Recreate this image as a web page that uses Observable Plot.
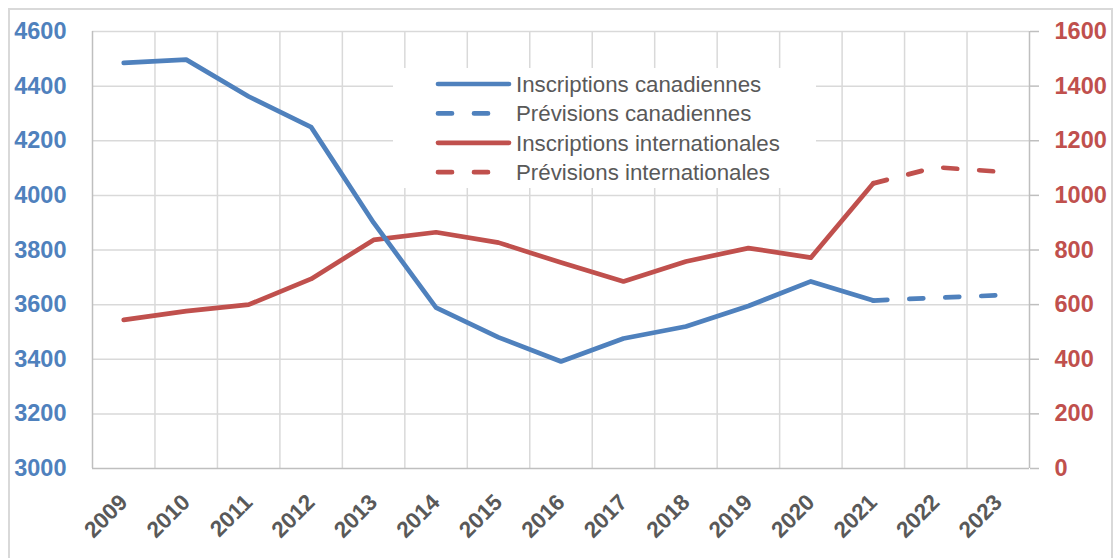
<!DOCTYPE html>
<html><head><meta charset="utf-8">
<script src="https://cdn.jsdelivr.net/npm/d3@7"></script>
<script src="https://cdn.jsdelivr.net/npm/@observablehq/plot@0.6"></script>
<style>
body{margin:0;background:#fff;}
#wrap{position:relative;width:1114px;height:558px;overflow:hidden;background:#fff;}
#border{position:absolute;left:8px;top:8px;width:1105px;height:620px;border:2px solid #D9D9D9;box-sizing:border-box;}
#chart{position:absolute;left:0;top:0;}
#legend{position:absolute;left:393px;top:68px;width:423px;height:120px;background:#fff;}
</style></head><body>
<div id="wrap"><div id="border"></div><div id="chart"></div><div id="legend"></div></div>
<script>
const years = [2009,2010,2011,2012,2013,2014,2015,2016,2017,2018,2019,2020,2021,2022,2023];
const actualYears = [2009,2010,2011,2012,2013,2014,2015,2016,2017,2018,2019,2020,2021];
const forecastYears = [2021,2022,2023];
const canadian = [4485,4497,4362,4250,3900,3589,3480,3392,3476,3520,3595,3685,3615];
const canadianForecast = [3615,3625,3634];
const international = [544,576,600,694,837,865,827,754,685,758,807,772,1044];
const internationalForecast = [1044,1103,1087];
const leftTicks = [3000,3200,3400,3600,3800,4000,4200,4400,4600];
const rightTicks = [0,200,400,600,800,1000,1200,1400,1600];
const legendLabels = ["Inscriptions canadiennes","Prévisions canadiennes","Inscriptions internationales","Prévisions internationales"];

const BLUE = "#4F81BD", RED = "#C0504D";
const offset = leftTicks[0] - rightTicks[0]; // right axis maps onto left scale
const rows = (xs, vs, shift=0) => xs.map((x,i)=>({year:x, value:vs[i]+shift}));
const boundaries = [years[0]-0.5, ...years.map(y=>y+0.5)];
const inner = boundaries.slice(1,-1);
const edges = [boundaries[0], boundaries[boundaries.length-1]];

const lineStyle = {x:"year", y:"value", strokeWidth:4.7, strokeLinejoin:"round", strokeLinecap:"round"};
const dash = "14,22";

const chart = Plot.plot({
  width:1114, height:558,
  marginLeft:92, marginRight:85, marginTop:31, marginBottom:90,
  style:{fontFamily:"'Liberation Sans', Arial, sans-serif", background:"transparent", overflow:"visible"},
  x:{domain:[boundaries[0], boundaries[boundaries.length-1]], axis:null},
  y:{domain:[leftTicks[0], leftTicks[leftTicks.length-1]], axis:null},
  marks:[
    Plot.ruleY(leftTicks.slice(1), {stroke:"#D9D9D9", strokeWidth:1.5}),
    Plot.ruleX(inner, {stroke:"#D9D9D9", strokeWidth:1.5}),
    Plot.ruleX(edges, {stroke:"#BFBFBF", strokeWidth:1.5}),
    Plot.ruleY([leftTicks[0]], {stroke:"#BFBFBF", strokeWidth:1.5}),
    Plot.axisY(leftTicks, {anchor:"left", tickSize:0, tickPadding:26, fill:BLUE, fontSize:23.5, fontWeight:"bold", label:null, tickFormat:d=>String(d)}),
    Plot.axisY(rightTicks.map(t=>t+offset), {anchor:"right", tickSize:9, tickPadding:16, stroke:"#BFBFBF", strokeWidth:1.5, fill:RED, fontSize:23.5, fontWeight:"bold", label:null, tickFormat:d=>String(d-offset)}),
    Plot.axisX(years, {anchor:"bottom", tickSize:0, tickPadding:30, tickRotate:-45, fill:"#595959", fontSize:22.5, fontWeight:"bold", label:null, tickFormat:d=>String(d)}),
    Plot.line(rows(actualYears, international, offset), {...lineStyle, stroke:RED}),
    Plot.line(rows(forecastYears, internationalForecast, offset), {...lineStyle, stroke:RED, strokeDasharray:dash}),
    Plot.line(rows(actualYears, canadian), {...lineStyle, stroke:BLUE}),
    Plot.line(rows(forecastYears, canadianForecast), {...lineStyle, stroke:BLUE, strokeDasharray:dash})
  ]
});
document.getElementById("chart").appendChild(chart);

// legend
const legendItems = [
  {label:legendLabels[0], color:BLUE, dash:null},
  {label:legendLabels[1], color:BLUE, dash:dash},
  {label:legendLabels[2], color:RED, dash:null},
  {label:legendLabels[3], color:RED, dash:dash}
];
const fontFam = "'Liberation Sans', Arial, sans-serif";
const ctx = document.createElement("canvas").getContext("2d");
ctx.font = `20px ${fontFam}`;
const fs = 20 * 264 / ctx.measureText(legendLabels[2]).width;
const lsvg = d3.select("#legend").append("svg").attr("width",423).attr("height",120).style("font-family",fontFam);
const g = lsvg.selectAll("g").data(legendItems).join("g").attr("transform",(d,i)=>`translate(0,${16+i*29.4})`);
g.append("line").attr("x1",45).attr("x2",116).attr("y1",0).attr("y2",0)
  .attr("stroke",d=>d.color).attr("stroke-width",4.7).attr("stroke-linecap","round")
  .attr("stroke-dasharray",d=>d.dash ? "14,22" : null);
g.append("text").attr("x",123).attr("y",0).attr("dy","0.35em").attr("fill","#595959")
  .style("font-size",fs+"px").text(d=>d.label);
</script>
</body></html>
